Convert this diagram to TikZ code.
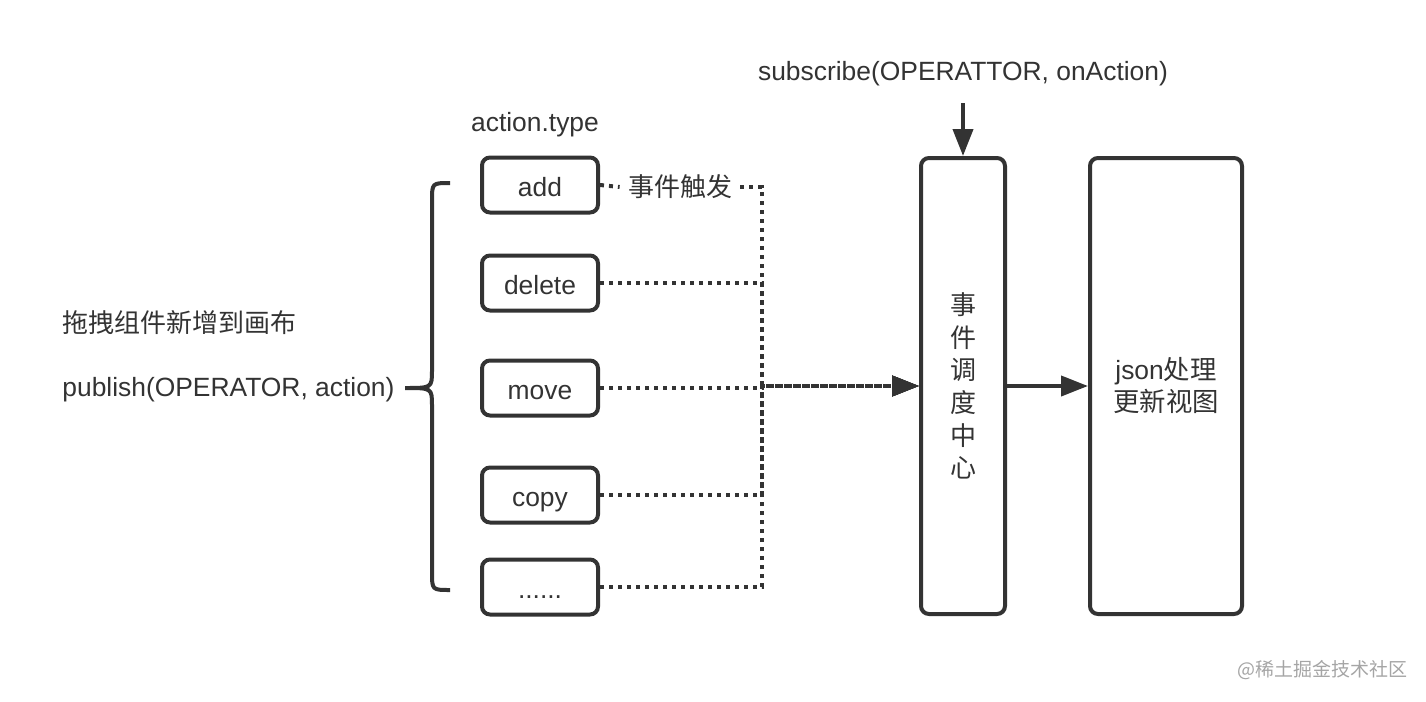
\documentclass[tikz,border=0pt]{standalone}
\usepackage{fontspec}
\setmainfont{Liberation Sans}
\newfontfamily\cjk{Noto Sans CJK SC}
\usetikzlibrary{arrows.meta}

\definecolor{ink}{RGB}{51,51,51}
\definecolor{mark}{RGB}{165,165,165}

\tikzset{
  txt/.style={text=ink, inner sep=0pt, font=\fontsize{13.2}{16}\selectfont},
  typebox/.style={txt, draw=ink, line width=2pt, rounded corners=4pt, minimum width=58pt, minimum height=27.5pt, text height=11pt, text depth=0pt},
  tallbox/.style={txt, draw=ink, line width=2pt, rounded corners=4pt, minimum height=228pt, align=center},
  dotline/.style={draw=ink, line width=2pt, dash pattern={on 2pt off 2.5pt}},
  tip/.style={-{Triangle[length=13.5pt,width=10pt]}},
}

\begin{document}
\begin{tikzpicture}[x=0.5pt,y=0.5pt,yscale=-1]
\useasboundingbox (0,0) rectangle (1426,702);

%Shape: Rectangle
\node (add) [typebox] at (540,185) {add};
%Shape: Rectangle
\node (delete) [typebox] at (540,283) {delete};
%Shape: Rectangle
\node (move) [typebox] at (540,388) {move};
%Shape: Rectangle
\node (copy) [typebox] at (540,495) {copy};
%Shape: Rectangle
\node (more) [typebox] at (540,587) {......};
%Shape: Rectangle
\node (hub) [tallbox, minimum width=42pt, font=\cjk\fontsize{13}{16.3}\selectfont] at (963,386) {事\\件\\调\\度\\中\\心};
%Shape: Rectangle
\node (view) [tallbox, minimum width=76pt, font=\fontsize{13.2}{16}\selectfont] at (1166,386) {json{\cjk 处理}\\{\cjk 更新视图}};

% Text Node
\node (type) [txt] at (535,125) {action.type};
% Text Node
\node (trig) [txt, font=\cjk\fontsize{13}{16}\selectfont] at (680,187) {事件触发};
% Text Node
\node (sub) [txt] at (963,74) {subscribe(OPERATTOR, onAction)};
% Text Node
\node (drag) [txt, anchor=west, font=\cjk\fontsize{13}{16}\selectfont] at (62,323) {拖拽组件新增到画布};
% Text Node
\node (pub) [txt, anchor=west] at (62,390) {publish(OPERATOR, action)};
% Text Node
\node (wm) [txt, anchor=east, text=mark, font=\cjk\fontsize{9.5}{11}\selectfont] at (1408,670) {@稀土掘金技术社区};

\coordinate (bus) at (762,185);
\coordinate (subin) at (963,103);

%Straight Lines
\draw [dotline] (add.east) -- ([xshift=-4pt]trig.west);
%Straight Lines
\draw [dotline, tip] ([xshift=4pt]trig.east) -| (bus |- hub.west) -- (hub.west);
%Straight Lines
\draw [dotline, tip] (delete.east) -| (bus |- hub.west) -- (hub.west);
%Straight Lines
\draw [dotline, tip] (move.east) -| (bus |- hub.west) -- (hub.west);
%Straight Lines
\draw [dotline, tip] (copy.east) -| (bus |- hub.west) -- (hub.west);
%Straight Lines
\draw [dotline, tip] (more.east) -| (bus |- hub.west) -- (hub.west);

%Straight Lines
\draw [draw=ink, line width=2pt, tip] (subin) -- (hub.north);
%Straight Lines
\draw [draw=ink, line width=2pt, tip] (hub.east) -- (view.west);

%Shape: Brace
\draw [draw=ink, line width=2pt] (450,183) .. controls (432,183) .. (432,201) -- (432,370) .. controls (432,388) .. (405,388) .. controls (432,388) .. (432,406) -- (432,572) .. controls (432,590) .. (450,590);

\end{tikzpicture}
\end{document}
